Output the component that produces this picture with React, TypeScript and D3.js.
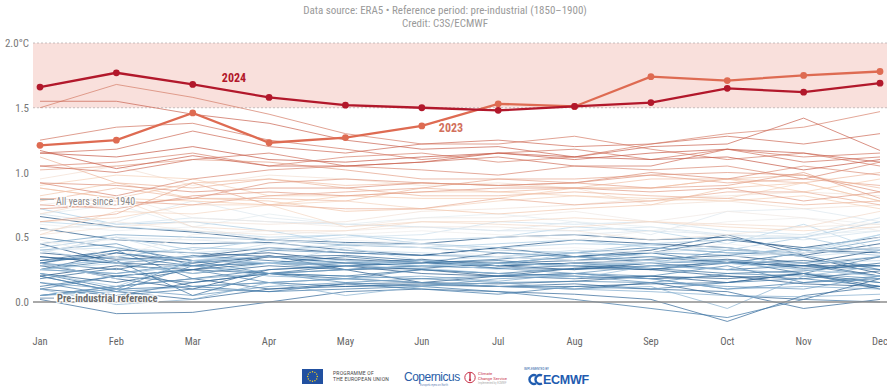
import React from "react";
import * as d3 from "d3";

const months = ["Jan","Feb","Mar","Apr","May","Jun","Jul","Aug","Sep","Oct","Nov","Dec"];
const yTicks = [0, 0.5, 1, 1.5, 2];
const yTickLabels = ["0.0", "0.5", "1.0", "1.5", "2.0°C"];

const y2024 = [1.66,1.77,1.68,1.58,1.52,1.50,1.48,1.51,1.54,1.65,1.62,1.69];
const y2023 = [1.21,1.25,1.46,1.23,1.27,1.36,1.53,1.51,1.74,1.71,1.75,1.78];

const years1940s = [
  [0.20,0.28,0.25,0.35,0.30,0.33,0.28,0.30,0.33,0.36,0.30,0.40],
  [0.38,0.33,0.35,0.42,0.38,0.36,0.42,0.35,0.40,0.52,0.36,0.45],
  [0.45,0.30,0.35,0.38,0.32,0.30,0.28,0.25,0.30,0.33,0.28,0.28],
  [0.25,0.38,0.30,0.35,0.33,0.30,0.38,0.35,0.38,0.48,0.42,0.50],
  [0.66,0.58,0.54,0.48,0.46,0.45,0.50,0.52,0.48,0.50,0.40,0.38],
  [0.57,0.48,0.45,0.46,0.40,0.36,0.42,0.48,0.45,0.42,0.35,0.22],
  [0.35,0.30,0.28,0.36,0.25,0.15,0.20,0.18,0.20,0.15,0.22,0.12],
  [0.22,0.15,0.25,0.30,0.28,0.25,0.20,0.26,0.25,0.32,0.30,0.20],
  [0.30,0.18,0.10,0.25,0.28,0.22,0.20,0.22,0.18,0.20,0.14,0.12],
  [0.28,0.20,0.25,0.22,0.18,0.15,0.14,0.16,0.20,0.18,0.22,0.15],
];
const years1950s = [
  [0.05,0.12,0.18,0.10,0.14,0.15,0.12,0.10,0.15,0.05,0.02,0.18],
  [0.10,0.05,0.15,0.22,0.25,0.28,0.30,0.32,0.35,0.30,0.28,0.35],
  [0.35,0.30,0.22,0.28,0.25,0.26,0.30,0.28,0.25,0.20,0.18,0.24],
  [0.32,0.40,0.38,0.35,0.36,0.32,0.28,0.30,0.30,0.32,0.26,0.28],
  [0.18,0.26,0.12,0.15,0.12,0.14,0.12,0.12,0.14,0.15,0.22,0.10],
  [0.20,0.08,0.02,0.10,0.12,0.13,0.12,0.14,0.10,0.08,-0.05,0.02],
  [0.02,-0.09,-0.08,0.00,0.08,0.10,0.08,0.06,0.02,-0.15,0.05,0.12],
  [0.12,0.20,0.15,0.22,0.28,0.32,0.30,0.35,0.38,0.30,0.38,0.42],
  [0.50,0.42,0.32,0.30,0.35,0.30,0.32,0.28,0.25,0.30,0.32,0.28],
  [0.30,0.25,0.36,0.32,0.28,0.30,0.28,0.30,0.26,0.22,0.24,0.30],
];
const years1960s = [
  [0.25,0.32,0.05,0.22,0.20,0.25,0.22,0.26,0.30,0.32,0.22,0.35],
  [0.30,0.38,0.32,0.35,0.30,0.28,0.26,0.28,0.30,0.25,0.28,0.20],
  [0.32,0.35,0.28,0.30,0.30,0.32,0.26,0.25,0.28,0.30,0.28,0.25],
  [0.30,0.40,0.18,0.25,0.28,0.30,0.33,0.38,0.42,0.38,0.36,0.25],
  [0.22,0.10,0.12,0.08,0.10,0.12,0.08,0.02,-0.05,-0.12,0.02,0.00],
  [0.15,0.05,0.10,0.08,0.14,0.10,0.06,0.12,0.10,0.15,0.18,0.12],
  [0.10,0.20,0.25,0.15,0.18,0.25,0.22,0.20,0.18,0.10,0.15,0.18],
  [0.20,0.08,0.28,0.22,0.20,0.18,0.20,0.22,0.20,0.28,0.15,0.20],
  [0.05,0.10,0.32,0.22,0.15,0.18,0.15,0.16,0.15,0.22,0.20,0.15],
  [0.25,0.22,0.30,0.40,0.38,0.36,0.35,0.32,0.38,0.36,0.42,0.40],
];
const years1970s = [
  [0.40,0.45,0.28,0.30,0.25,0.28,0.26,0.22,0.28,0.25,0.22,0.18],
  [0.15,0.10,0.05,0.12,0.15,0.12,0.18,0.20,0.15,0.12,0.10,0.20],
  [0.05,0.12,0.18,0.22,0.25,0.28,0.30,0.35,0.30,0.40,0.38,0.48],
  [0.45,0.52,0.50,0.48,0.44,0.42,0.38,0.35,0.32,0.30,0.25,0.20],
  [0.05,0.08,0.12,0.15,0.18,0.20,0.16,0.22,0.18,0.10,0.12,0.10],
  [0.25,0.22,0.28,0.20,0.18,0.15,0.12,0.10,0.08,0.05,0.04,0.06],
  [0.10,-0.02,0.02,0.15,0.05,0.12,0.15,0.10,0.12,-0.05,0.20,0.28],
  [0.25,0.35,0.42,0.40,0.44,0.45,0.40,0.38,0.35,0.32,0.30,0.35],
  [0.28,0.32,0.35,0.30,0.28,0.26,0.22,0.18,0.28,0.25,0.40,0.36],
  [0.22,0.12,0.32,0.30,0.30,0.32,0.28,0.38,0.45,0.48,0.50,0.62],
];
const years1980s = [
  [0.42,0.50,0.40,0.48,0.52,0.45,0.42,0.45,0.44,0.40,0.50,0.38],
  [0.72,0.60,0.62,0.55,0.45,0.42,0.45,0.48,0.42,0.38,0.40,0.52],
  [0.25,0.30,0.22,0.30,0.32,0.28,0.30,0.28,0.30,0.35,0.38,0.52],
  [0.62,0.58,0.55,0.50,0.52,0.48,0.50,0.58,0.55,0.45,0.60,0.40],
  [0.40,0.30,0.35,0.30,0.42,0.32,0.35,0.38,0.32,0.30,0.25,0.20],
  [0.30,0.18,0.32,0.35,0.32,0.30,0.25,0.30,0.30,0.32,0.30,0.32],
  [0.40,0.42,0.38,0.42,0.40,0.38,0.35,0.40,0.38,0.42,0.35,0.40],
  [0.38,0.50,0.35,0.45,0.50,0.52,0.62,0.60,0.62,0.55,0.52,0.65],
  [0.68,0.60,0.65,0.62,0.60,0.58,0.55,0.55,0.58,0.52,0.48,0.55],
  [0.38,0.50,0.48,0.45,0.42,0.48,0.50,0.52,0.55,0.52,0.50,0.58],
];
const years1990s = [
  [0.55,0.62,0.78,0.65,0.60,0.58,0.55,0.62,0.52,0.70,0.72,0.62],
  [0.68,0.75,0.58,0.68,0.60,0.65,0.68,0.62,0.58,0.50,0.52,0.55],
  [0.60,0.55,0.58,0.48,0.45,0.42,0.35,0.32,0.30,0.35,0.38,0.42],
  [0.45,0.48,0.48,0.50,0.48,0.45,0.40,0.42,0.38,0.45,0.38,0.50],
  [0.48,0.35,0.52,0.55,0.52,0.55,0.52,0.48,0.55,0.62,0.65,0.60],
  [0.75,0.82,0.65,0.62,0.58,0.65,0.65,0.70,0.62,0.70,0.65,0.55],
  [0.55,0.62,0.55,0.52,0.55,0.58,0.58,0.55,0.48,0.52,0.58,0.60],
  [0.52,0.58,0.62,0.60,0.62,0.70,0.72,0.75,0.80,0.82,0.85,0.82],
  [0.95,1.05,0.90,0.98,0.95,0.90,0.92,0.88,0.75,0.78,0.72,0.75],
  [0.68,0.80,0.58,0.55,0.55,0.62,0.60,0.58,0.62,0.60,0.58,0.70],
];
const years2000s = [
  [0.52,0.70,0.68,0.75,0.58,0.62,0.62,0.65,0.62,0.58,0.55,0.58],
  [0.62,0.65,0.75,0.75,0.78,0.72,0.78,0.82,0.78,0.80,0.92,0.78],
  [0.90,0.98,0.95,0.82,0.82,0.85,0.85,0.82,0.80,0.78,0.82,0.72],
  [0.88,0.80,0.78,0.75,0.82,0.80,0.80,0.88,0.88,0.95,0.85,0.95],
  [0.82,0.92,0.80,0.78,0.70,0.72,0.68,0.72,0.75,0.88,0.92,0.78],
  [0.88,0.80,0.92,0.95,0.90,0.92,0.90,0.88,0.95,0.95,0.98,0.88],
  [0.78,0.88,0.80,0.80,0.78,0.88,0.85,0.88,0.88,0.95,0.92,1.00],
  [1.12,0.92,0.88,0.95,0.88,0.82,0.82,0.85,0.82,0.80,0.75,0.78],
  [0.62,0.68,0.92,0.75,0.72,0.72,0.80,0.75,0.78,0.85,0.85,0.75],
  [0.80,0.78,0.75,0.82,0.85,0.88,0.95,0.95,0.98,0.92,0.95,0.90],
];
const years2010s = [
  [1.02,1.05,1.10,1.08,1.02,0.95,0.95,0.92,0.88,0.90,1.00,0.80],
  [0.75,0.72,0.82,0.85,0.82,0.85,0.88,0.88,0.85,0.88,0.78,0.85],
  [0.72,0.75,0.80,0.92,0.95,0.92,0.90,0.92,0.98,1.00,0.98,0.85],
  [0.92,0.90,0.85,0.88,0.88,0.92,0.90,0.92,1.00,0.95,1.05,0.98],
  [0.92,0.82,0.95,1.02,1.05,1.02,0.98,1.05,1.02,1.05,0.95,1.08],
  [1.05,1.08,1.15,1.05,1.12,1.15,1.08,1.12,1.22,1.30,1.35,1.47],
  [1.50,1.68,1.58,1.45,1.30,1.22,1.22,1.28,1.18,1.10,1.15,1.05],
  [1.25,1.35,1.38,1.25,1.18,1.10,1.15,1.18,1.10,1.18,1.12,1.15],
  [1.05,1.00,1.10,1.15,1.05,1.08,1.12,1.05,1.05,1.18,1.08,1.12],
  [1.15,1.18,1.32,1.20,1.15,1.22,1.25,1.20,1.22,1.28,1.22,1.30],
];
const years2020s = [
  [1.55,1.55,1.45,1.38,1.25,1.18,1.20,1.12,1.20,1.22,1.42,1.17],
  [1.17,1.03,1.13,1.05,1.05,1.08,1.15,1.10,1.15,1.18,1.15,1.08],
  [1.15,1.12,1.20,1.10,1.08,1.12,1.15,1.12,1.10,1.12,1.02,1.10],
];

const pastYears = [
  ...years1940s, ...years1950s, ...years1960s, ...years1970s,
  ...years1980s, ...years1990s, ...years2000s, ...years2010s, ...years2020s,
];

const W = 887, H = 387;
const FONT = "'Roboto Condensed', 'Liberation Sans Narrow', 'DejaVu Sans Condensed', Roboto, sans-serif";

export default function App() {
  const x = d3.scalePoint<string>().domain(months).range([40, 880]);
  const y = d3.scaleLinear().domain([0, 2]).range([302, 43]);
  const color = d3.scaleLinear<string>()
    .domain([1940, 1965, 1982, 1993, 2003, 2022])
    .range(["#1d4f80", "#4179a8", "#b3d2e8", "#eef0f2", "#f6cdb2", "#c65b4a"])
    .interpolate(d3.interpolateRgb);
  const line = d3.line<number>().x((_, i) => x(months[i]) as number).y((d) => y(d));

  const halo = { paintOrder: "stroke" as const, stroke: "white", strokeWidth: 3, strokeLinejoin: "round" as const };

  const starAngles = d3.range(12).map((i) => (i / 12) * Math.PI * 2);

  return (
    <svg width={W} height={H} style={{ position: "absolute", left: 0, top: 0, background: "white" }}>
      <text x={445} y={14} textAnchor="middle" fontFamily={FONT} fontSize={11} fill="#9a9a9a">
        Data source: ERA5 • Reference period: pre-industrial (1850–1900)
      </text>
      <text x={445} y={27} textAnchor="middle" fontFamily={FONT} fontSize={11} fill="#9a9a9a">
        Credit: C3S/ECMWF
      </text>

      <rect x={33} y={y(2)} width={W - 33} height={y(1.5) - y(2)} fill="#f9e0dc" />
      {[2, 1.5].map((v) => (
        <line key={v} x1={33} x2={W} y1={y(v)} y2={y(v)} stroke="#b9b0b0" strokeWidth={0.8} strokeDasharray="2,2" />
      ))}

      {yTicks.map((v, i) => (
        <text key={v} x={29} y={y(v) + 4} textAnchor="end" fontFamily={FONT} fontSize={11} fill="#777">
          {yTickLabels[i]}
        </text>
      ))}

      <g fill="none">
        {pastYears.map((vals, i) => (
          <path key={i} d={line(vals) as string} stroke={color(1940 + i)} strokeWidth={1} strokeOpacity={0.72} />
        ))}
      </g>

      <line x1={33} x2={W} y1={y(0)} y2={y(0)} stroke="#8c8c8c" strokeWidth={1.5} />

      <line x1={40} x2={54} y1={y(0.8) + 1} y2={y(0.8) + 1} stroke="#aaa" strokeWidth={1} />
      <text x={56} y={y(0.78) + 4} fontFamily={FONT} fontSize={10} fill="#8a8a8a" style={{ ...halo, strokeOpacity: 0.8 }}>
        All years since 1940
      </text>
      <line x1={40} x2={54} y1={y(0.03)} y2={y(0.03)} stroke="#7d9ab5" strokeWidth={1} />
      <text x={57} y={y(0.03) + 3.5} fontFamily={FONT} fontSize={10.5} fontWeight={700} fill="#6b6b6b" style={{ ...halo, strokeOpacity: 0.8 }}>
        Pre-industrial reference
      </text>

      <path d={line(y2023) as string} fill="none" stroke="#de6b52" strokeWidth={2.3} />
      {y2023.map((v, i) => (
        <circle key={i} cx={x(months[i])} cy={y(v)} r={3.4} fill="#de6b52" />
      ))}
      <path d={line(y2024) as string} fill="none" stroke="#b2182b" strokeWidth={2.3} />
      {y2024.map((v, i) => (
        <circle key={i} cx={x(months[i])} cy={y(v)} r={3.4} fill="#b2182b" />
      ))}
      <text x={234} y={82} textAnchor="middle" fontFamily={FONT} fontSize={12} fontWeight={700} fill="#b2182b">2024</text>
      <text x={451} y={132} textAnchor="middle" fontFamily={FONT} fontSize={12} fontWeight={700} fill="#d2705c" style={halo}>2023</text>

      {months.map((m) => (
        <text key={m} x={x(m)} y={345} textAnchor="middle" fontFamily={FONT} fontSize={10.5} fill="#666">{m}</text>
      ))}

      {/* Logos */}
      <rect x={302} y={369} width={21} height={15} fill="#2150a0" />
      {starAngles.map((a, i) => (
        <circle key={i} cx={312.5 + Math.cos(a) * 4.8} cy={376.5 + Math.sin(a) * 4.8} r={0.7} fill="#ffd617" />
      ))}
      <text x={333} y={375} fontFamily="Roboto, sans-serif" fontSize={5} fill="#444" letterSpacing={0.2}>PROGRAMME OF</text>
      <text x={333} y={381} fontFamily="Roboto, sans-serif" fontSize={5} fill="#444" letterSpacing={0.2}>THE EUROPEAN UNION</text>

      <text x={404} y={381} fontFamily="'Liberation Sans', sans-serif" fontSize={12} fill="#2a5ea8" letterSpacing={-0.5}>Copernicus</text>
      <text x={420} y={385.5} fontFamily="Roboto, sans-serif" fontSize={2.8} fill="#6b87b8">Europe's eyes on Earth</text>

      <circle cx={470} cy={377.5} r={5.2} fill="none" stroke="#c9334a" strokeWidth={1} />
      <path d="M470,373 L470,379" stroke="#c9334a" strokeWidth={1.4} />
      <circle cx={470} cy={380} r={1.2} fill="#c9334a" />
      <text x={478} y={375} fontFamily="Roboto, sans-serif" fontSize={4.2} fill="#c9334a">Climate</text>
      <text x={478} y={379.5} fontFamily="Roboto, sans-serif" fontSize={4.2} fill="#c9334a">Change Service</text>
      <text x={478} y={384} fontFamily="Roboto, sans-serif" fontSize={2.6} fill="#aaa">Implemented by ECMWF</text>

      <text x={524} y={370} fontFamily="Roboto, sans-serif" fontSize={3} fill="#2a5ea8">IMPLEMENTED BY</text>
      <path d="M536,375.5 A4.5,4.5 0 1,0 536,383.5" fill="none" stroke="#1f5cb0" strokeWidth={2.4} />
      <path d="M542,375.5 A4.5,4.5 0 1,0 542,383.5" fill="none" stroke="#1f5cb0" strokeWidth={2.4} />
      <text x={543} y={384} fontFamily="'Liberation Sans', sans-serif" fontSize={12.5} fontWeight={700} fill="#1f5cb0" letterSpacing={-0.3}>ECMWF</text>
    </svg>
  );
}
